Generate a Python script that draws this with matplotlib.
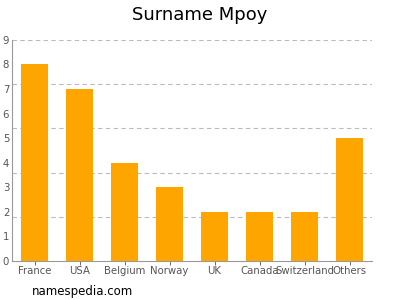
import matplotlib
matplotlib.use("Agg")
import matplotlib.pyplot as plt
import numpy as np

categories = ["France", "USA", "Belgium", "Norway", "UK", "Canada", "Switzerland", "Others"]
values = [8, 7, 4, 3, 2, 2, 2, 5]
yticks = list(range(0, 10))
grid_levels = [1.8, 3.6, 5.4, 7.2, 9.0]

fig = plt.figure(figsize=(4, 3), dpi=100)
ax = fig.add_axes([0.03, 0.13, 0.90, 0.737])
x = np.arange(len(categories))
ax.bar(x, values, width=0.62, color="#FFA500", zorder=3)
ax.set_xlim(-0.5, len(categories) - 0.5)
ax.set_ylim(0, 9)
for g in grid_levels:
    ax.axhline(g, color="#bbbbbb", linestyle=(0, (4, 3)), linewidth=0.8, zorder=1)
ax.set_yticks(yticks)
ax.set_yticklabels([str(t) for t in yticks])
ax.set_xticks(x)
ax.set_xticklabels(categories)
ax.tick_params(axis="both", labelsize=7.3, colors="#555555", length=3, width=0.6, pad=0.5)
ax.tick_params(axis="y", length=0, pad=2)
for s in ["top", "right"]:
    ax.spines[s].set_visible(False)
for s in ["left", "bottom"]:
    ax.spines[s].set_color("#999999")
    ax.spines[s].set_linewidth(0.8)
fig.text(0.5, 0.95, "Surname Mpoy", ha="center", va="center", fontsize=13)
fig.text(0.08, 0.028, "namespedia.com", ha="left", va="center", fontsize=8.5)
fig.savefig("out.png", dpi=100)
